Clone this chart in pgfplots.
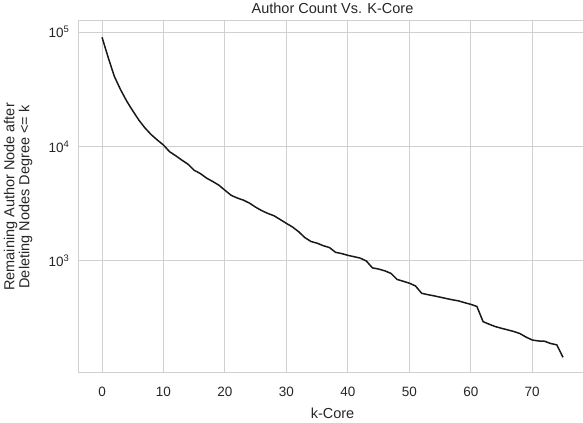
\documentclass[border=0pt]{standalone}
\usepackage{pgfplots}
\pgfplotsset{compat=1.18}
\usepackage{fontspec}
\setmainfont{Liberation Sans}
\definecolor{gridc}{HTML}{D0D0D0}
\definecolor{txt}{HTML}{262626}
\begin{document}
\begin{tikzpicture}
\begin{axis}[
  name=ax,
  scale only axis,
  width=507pt, height=352pt,
  ymode=log,
  xmin=-3.75, xmax=78.75,
  ymin=105, ymax=125000,
  xtick={0,10,20,30,40,50,60,70},
  ytick={1000,10000,100000},
  yticklabels={10\textsuperscript{3},10\textsuperscript{4},10\textsuperscript{5}},
  minor ytick={},
  tick style={draw=none},
  grid=major,
  major grid style={gridc, line width=1pt},
  axis line style={gridc, line width=1pt},
  /pgf/number format/assume math mode=true,
  ticklabel style={font=\fontsize{13.5}{15}\selectfont, text=txt},
  xticklabel style={yshift=-11pt},
  yticklabel style={xshift=-6pt},
  label style={font=\fontsize{14.5}{15}\selectfont, text=txt},
  xlabel={k-Core},
  xlabel style={yshift=-4pt},
  ylabel={Remaining Author Node after\\Deleting Nodes Degree <= k},
  ylabel style={align=center, at={(axis description cs:-0.085,0.5)}, anchor=south},
  title={Author Count Vs. K-Core},
  title style={font=\fontsize{14.5}{15}\selectfont, text=txt, yshift=-2pt},
]
\addplot[color=black!90, line width=1.5pt, mark=none] coordinates {
(0,90000) (1,60000) (2,41000) (3,31500) (4,25000) (5,20500) (6,17000) (7,14500)
(8,12700) (9,11400) (10,10300) (11,9000) (12,8300) (13,7600) (14,7000) (15,6200)
(16,5800) (17,5300) (18,4950) (19,4600) (20,4150) (21,3750) (22,3550) (23,3400)
(24,3200) (25,2950) (26,2750) (27,2600) (28,2480) (29,2300) (30,2130) (31,1980)
(32,1800) (33,1600) (34,1480) (35,1430) (36,1360) (37,1310) (38,1190) (39,1160)
(40,1120) (41,1090) (42,1060) (43,1000) (44,870) (45,850) (46,820) (47,780)
(48,690) (49,665) (50,640) (51,605) (52,522) (53,508) (54,496) (55,483)
(56,470) (57,458) (58,448) (59,432) (60,418) (61,400) (62,295) (63,280)
(64,267) (65,258) (66,250) (67,242) (68,232) (69,216) (70,204) (71,200)
(72,199) (73,190) (74,185) (75,144)
};
\end{axis}
\pgfresetboundingbox
\path[use as bounding box] ([xshift=-79pt,yshift=-50pt]ax.south west) rectangle ([xshift=-3pt,yshift=21pt]ax.north east);
\end{tikzpicture}
\end{document}
